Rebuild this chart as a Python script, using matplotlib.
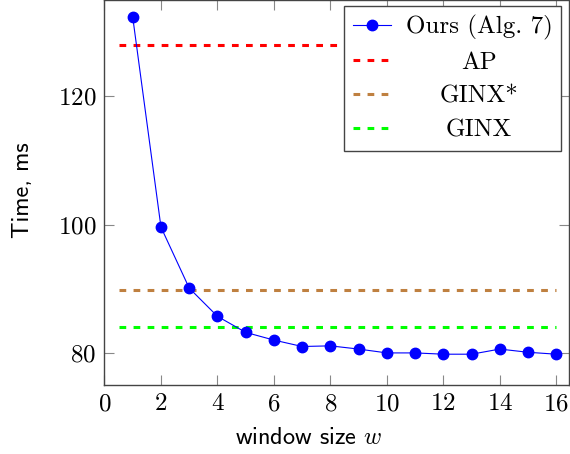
import numpy as np
import matplotlib
matplotlib.use("Agg")
import matplotlib.pyplot as plt

plt.rcParams['font.family'] = ['cmr10', 'DejaVu Serif']
plt.rcParams['mathtext.fontset'] = 'cm'
plt.rcParams['axes.formatter.use_mathtext'] = True

# window size w and measured time (ms)
window = np.arange(1, 17)
ours = [132.3, 99.6, 90.1, 85.7, 83.2, 82.0, 81.0, 81.1,
        80.6, 80.0, 80.0, 79.8, 79.8, 80.6, 80.1, 79.8]

# constant baselines
baseline_names = ["AP", "GINX*", "GINX"]
baseline_values = [128.0, 89.8, 84.1]
baseline_colors = ["#ff0000", "#bf8040", "#00ff00"]
baseline_span = [0.5, 16]

xticks = [0, 2, 4, 6, 8, 10, 12, 14, 16]
yticks = [80, 100, 120]

fig = plt.figure(figsize=(5.7, 4.54), dpi=100)
ax = fig.add_axes([104.5 / 570, 69 / 454, (569 - 104.5) / 570, 385 / 454])

ax.plot(window, ours, '-o', color='#0000ff', lw=0.8, ms=7.5, label="Ours (Alg. 7)", zorder=3)
for name, val, col in zip(baseline_names, baseline_values, baseline_colors):
    ax.plot(baseline_span, [val, val], color=col, lw=2.2, dashes=(2.2, 2.4), label=name)

ax.set_xlim(0, 16.45)
ax.set_ylim(75, 135)
ax.set_xticks(xticks)
ax.set_yticks(yticks)
ax.tick_params(direction='in', length=7, width=0.8, color='#888888', labelsize=18,
               pad=6, top=True, right=True)
for sp in ax.spines.values():
    sp.set_color('#444444')
    sp.set_linewidth(1.0)

ax.set_xlabel("window size $w$", family='cmss10', fontsize=17.5, va='center')
ax.set_ylabel("Time, ms", family='cmss10', fontsize=17.5, va='center')
ax.xaxis.set_label_coords((308.5 - 104.5) / (569 - 104.5), -(438 - 385) / 385)
ax.yaxis.set_label_coords(-(104.5 - 23) / (569 - 104.5), (385 - 190) / 385)

leg = ax.legend(loc='upper right', bbox_to_anchor=((561 - 104.5) / (569 - 104.5), 1 - 6 / 385),
                borderaxespad=0, fontsize=18, handlelength=1.5, handletextpad=0.6,
                borderpad=0.35, labelspacing=0.46, fancybox=False, framealpha=1,
                edgecolor='#444444')
leg.get_frame().set_linewidth(1.0)

# center the legend labels like pgfplots does
fig.canvas.draw()
renderer = fig.canvas.get_renderer()
texts = leg.get_texts()
widths = [t.get_window_extent(renderer).width for t in texts]
wmax = max(widths)
for t, w in zip(texts, widths):
    t.set_x((wmax - w) / 2)

fig.savefig("out.png", dpi=100)
